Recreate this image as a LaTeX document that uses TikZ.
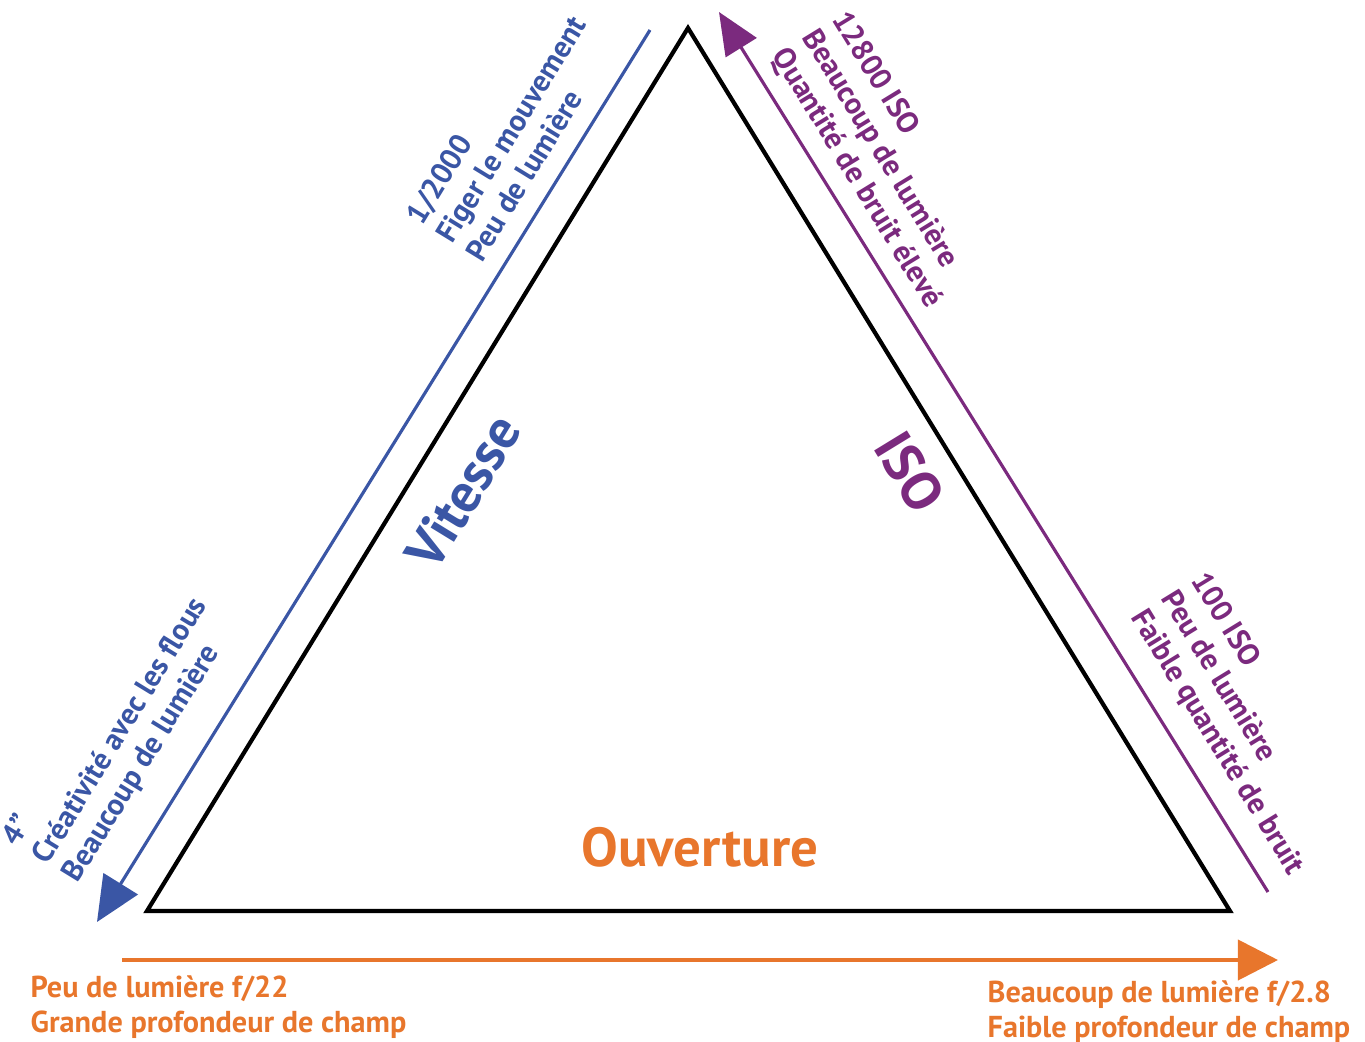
\documentclass[tikz,border=0pt]{standalone}
\usepackage{fontspec}
\setmainfont{PT Sans}
\usetikzlibrary{arrows.meta}

\definecolor{vitesseblue}{RGB}{58,86,165}
\definecolor{isopurple}{RGB}{123,42,126}
\definecolor{ouvorange}{RGB}{232,118,44}

\tikzset{
  small/.style={font=\bfseries\fontsize{8.6}{10}\selectfont, align=left, inner sep=0pt},
  big/.style={font=\bfseries\fontsize{15.6}{19}\selectfont, inner sep=0pt},
}

\begin{document}
\begin{tikzpicture}[x=0.01cm,y=-0.01cm]
  \useasboundingbox (0,0) rectangle (1365,1042);

  % Vertices
  \coordinate (A) at (147,911);
  \coordinate (B) at (1230,911);
  \coordinate (C) at (688,28);

  % Draw triangle
  \draw[line width=1.2pt, line join=miter] (A) -- (B) -- (C) -- cycle;

  % Arrow ends
  \coordinate (vTop) at (650,30);
  \coordinate (vBot) at (97,922);
  \coordinate (iBot) at (1268,892);
  \coordinate (iTop) at (719,12);
  \coordinate (oLeft) at (122,960);
  \coordinate (oRight) at (1278,960);

  % Arrows
  \draw[vitesseblue, line width=0.9pt, -{Triangle[length=0.45cm,width=0.4cm]}] (vTop) -- (vBot);
  \draw[isopurple, line width=0.9pt, -{Triangle[length=0.42cm,width=0.36cm]}] (iBot) -- (iTop);
  \draw[ouvorange, line width=1.1pt, -{Triangle[length=0.4cm,width=0.4cm]}] (oLeft) -- (oRight);

  % Side names
  \node[big, vitesseblue, rotate=58.5] (vitesse) at (463,492) {Vitesse};
  \node[big, isopurple, rotate=-58.5] (iso) at (910,472) {ISO};
  \node[big, ouvorange] (ouverture) at (700,847) {Ouverture};

  % Labels
  \node[small, vitesseblue, rotate=58.5, anchor=west] (vFast) at (443,240)
    {1/2000\\Figer le mouvement\\Peu de lumière};
  \node[small, vitesseblue, rotate=58.5, anchor=west] (vSlow) at (41,862)
    {4"\\Créativité avec les flous\\Beaucoup de lumière};
  \node[small, isopurple, rotate=-58.5, anchor=west] (iHigh) at (808,33)
    {12800 ISO\\Beaucoup de lumière\\Quantité de bruit élevé};
  \node[small, isopurple, rotate=-58.5, anchor=west] (iLow) at (1167,594)
    {100 ISO\\Peu de lumière\\Faible quantité de bruit};
  \node[small, ouvorange, anchor=west] (oClosed) at (30,1007)
    {Peu de lumière f/22\\Grande profondeur de champ};
  \node[small, ouvorange, anchor=west] (oOpen) at (987,1012)
    {Beaucoup de lumière f/2.8\\Faible profondeur de champ};
\end{tikzpicture}
\end{document}
